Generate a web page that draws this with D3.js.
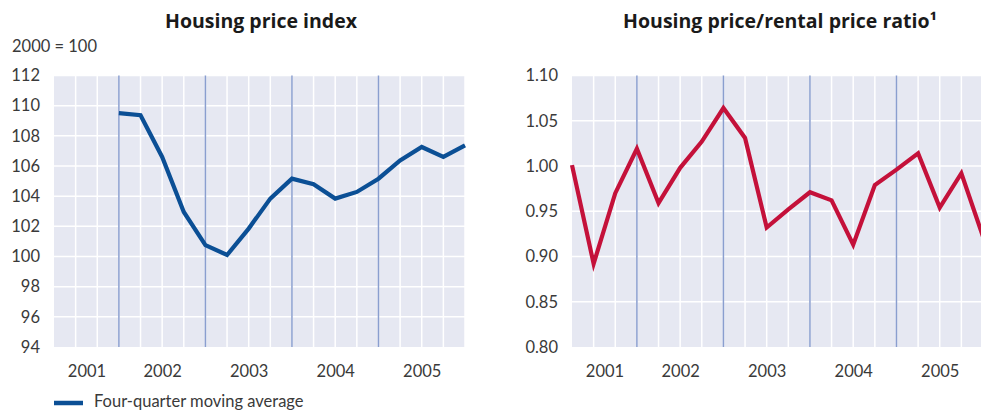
<!DOCTYPE html>
<html lang="en">
<head>
    <meta charset="UTF-8">
    <title>Housing price index and price/rental ratio</title>
    <script src="https://d3js.org/d3.v7.min.js"></script>
    <style>
        body { margin: 0; background: #fff; }
        text { font-family: Lato, "Open Sans", sans-serif; fill: #333; }
        .title { font-family: "Open Sans", Lato, sans-serif; font-size: 19.5px; font-weight: bold; fill: #1a1a1a; }
        .tick text { font-size: 16.5px; fill: #3a3a3a; }
    </style>
</head>
<body>
    <svg id="chart" width="981" height="411"></svg>

    <script>
        // Quarter positions in years (2001.25 = start of Q2 2001)
        const quarters = d3.range(0, 20).map(i => 2001.25 + i * 0.25);
        const years = [2001, 2002, 2003, 2004, 2005];

        // Left panel: four-quarter moving average, starts at 2002
        const priceIndexTicks = [94, 96, 98, 100, 102, 104, 106, 108, 110, 112];
        const priceIndex = [null, null, null,
            109.5, 109.37, 106.6, 102.95, 100.75, 100.1, 101.85, 103.84,
            105.16, 104.79, 103.84, 104.28, 105.16, 106.37, 107.26, 106.6, 107.37];

        // Right panel: housing price / rental price ratio
        const ratioTicks = [0.80, 0.85, 0.90, 0.95, 1.00, 1.05, 1.10];
        const ratio = [1.001, 0.892, 0.970, 1.019, 0.959, 0.998, 1.027, 1.064,
            1.031, 0.932, 0.952, 0.971, 0.962, 0.913, 0.979, 0.996, 1.014,
            0.954, 0.992, 0.922];

        const svg = d3.select("#chart");
        const plotTop = 75.5, plotBottom = 347, plotW = 411;

        function panel(left, title, ticks, values, color, fmt, titleX) {
            const x = d3.scaleLinear().domain([2001.25, 2006]).range([left, left + plotW]);
            const y = d3.scaleLinear().domain(d3.extent(ticks)).range([plotBottom, plotTop]);
            const g = svg.append("g");

            g.append("rect").attr("x", left).attr("y", plotTop)
                .attr("width", plotW).attr("height", plotBottom - plotTop)
                .attr("fill", "#e6e8f2");

            // white quarterly verticals
            g.selectAll(".vq").data(quarters.slice(1)).enter().append("line")
                .attr("x1", d => x(d)).attr("x2", d => x(d))
                .attr("y1", plotTop).attr("y2", plotBottom)
                .attr("stroke", "#fff").attr("stroke-width", 1.5);

            // horizontal gridlines
            g.selectAll(".hg").data(ticks.slice(1)).enter().append("line")
                .attr("x1", left).attr("x2", left + plotW)
                .attr("y1", d => y(d)).attr("y2", d => y(d))
                .attr("stroke", "#fff").attr("stroke-width", 1.5);

            // year boundaries
            g.selectAll(".vy").data(years.slice(1)).enter().append("line")
                .attr("x1", d => x(d)).attr("x2", d => x(d))
                .attr("y1", plotTop).attr("y2", plotBottom)
                .attr("stroke", "#8a9ecf").attr("stroke-width", 1.5);

            // y axis labels
            const yAxis = d3.axisLeft(y).tickValues(ticks).tickFormat(fmt).tickSize(0).tickPadding(14);
            g.append("g").attr("transform", `translate(${left},0)`).call(yAxis)
                .call(a => a.select(".domain").remove());

            // year labels centred on visible part of each year
            const xAxis = d3.axisBottom(x)
                .tickValues(years.map(yr => (Math.max(yr, 2001.25) + yr + 1) / 2))
                .tickFormat(v => String(Math.floor(v))).tickSize(0).tickPadding(18);
            g.append("g").attr("transform", `translate(0,${plotBottom})`).call(xAxis)
                .call(a => a.select(".domain").remove());

            const line = d3.line().defined(d => d != null)
                .x((d, i) => x(quarters[i])).y(d => y(d));
            g.append("path").datum(values)
                .attr("fill", "none").attr("stroke", color)
                .attr("stroke-width", 4.2).attr("stroke-linejoin", "miter")
                .attr("d", line);

            svg.append("text").attr("class", "title")
                .attr("x", titleX).attr("y", 28).attr("text-anchor", "middle")
                .text(title);
        }

        panel(54, "Housing price index", priceIndexTicks, priceIndex, "#0b4f95", d3.format("d"), 261);
        panel(572, "Housing price/rental price ratio\u00b9", ratioTicks, ratio, "#c4113a", d3.format(".2f"), 780);

        svg.append("text").attr("x", 12).attr("y", 52)
            .style("font-size", "16.5px").style("fill", "#3a3a3a").text("2000 = 100");

        // legend
        svg.append("line").attr("x1", 54).attr("x2", 83).attr("y1", 403).attr("y2", 403)
            .attr("stroke", "#0b4f95").attr("stroke-width", 4.5);
        svg.append("text").attr("x", 94).attr("y", 406.5)
            .style("font-size", "16.5px").style("fill", "#3a3a3a").text("Four-quarter moving average");
    </script>
</body>
</html>
